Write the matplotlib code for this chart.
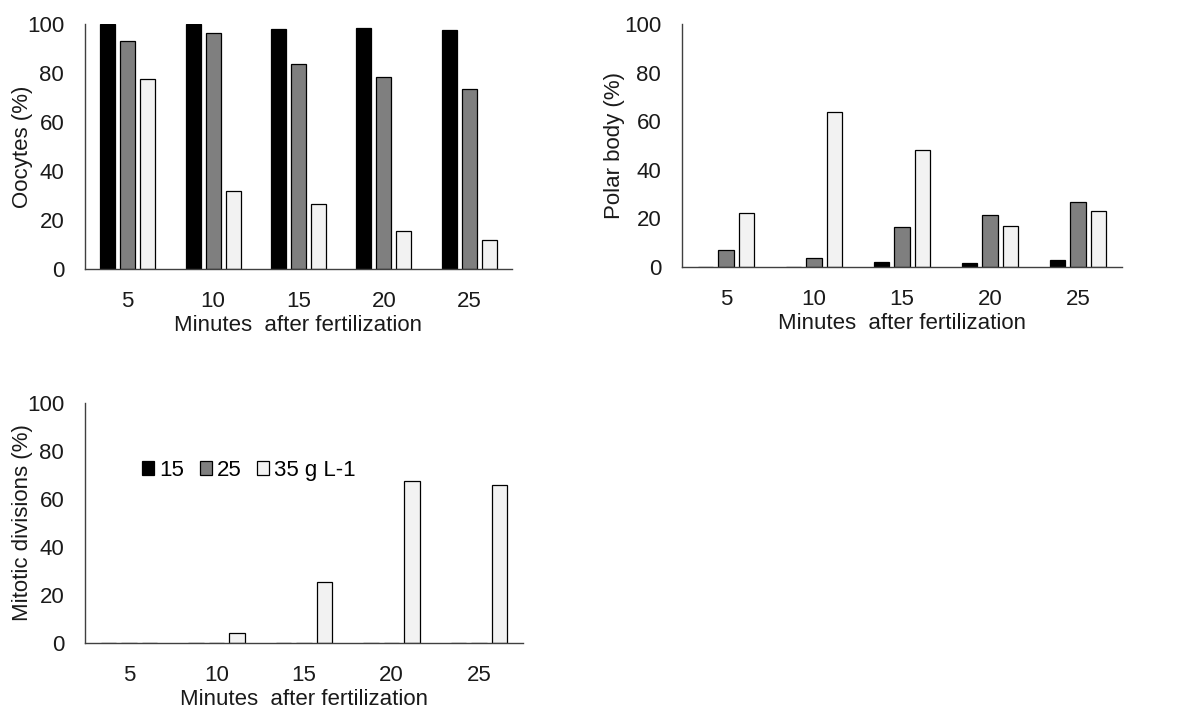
import numpy as np
import matplotlib.pyplot as plt

# data
minutes = ['5', '10', '15', '20', '25']
series_names = ['15', '25', '35 g L-1']

oocytes_15 = [100, 100, 97.8, 98.4, 97.6]
oocytes_25 = [93.1, 96.2, 83.5, 78.2, 73.3]
oocytes_35 = [77.7, 31.7, 26.5, 15.6, 11.7]

polar_15 = [0, 0, 2.2, 1.8, 2.7]
polar_25 = [7.0, 3.5, 16.3, 21.5, 26.9]
polar_35 = [22.1, 63.9, 48.0, 16.7, 23.0]

mitotic_15 = [0, 0, 0, 0, 0]
mitotic_25 = [0, 0, 0, 0, 0]
mitotic_35 = [0, 4.0, 25.6, 67.6, 65.8]

colors = ['#000000', '#7f7f7f', '#f2f2f2']
plt.rcParams['font.family'] = ['Liberation Sans', 'DejaVu Sans']
FS = 16

W, H = 1187, 711
fig = plt.figure(figsize=(W / 100, H / 100), dpi=100)


def px_axes(left, right, top, bottom):
    return fig.add_axes([left / W, 1 - bottom / H, (right - left) / W, (bottom - top) / H])


def draw_panel(ax, vals, ylabel, label_x):
    x = np.arange(len(minutes))
    width = 0.176
    offs = [-0.234, 0, 0.234]
    bars = []
    for v, c, o in zip(vals, colors, offs):
        b = ax.bar(x + o, v, width, color=c, edgecolor='black', linewidth=0.9)
        bars.append(b)
    ax.set_xlim(-0.5, len(minutes) - 0.5)
    ax.set_ylim(0, 100)
    ax.set_yticks([0, 20, 40, 60, 80, 100])
    ax.set_xticks(x)
    ax.set_xticklabels(minutes)
    ax.tick_params(length=0, labelsize=FS, colors='#1a1a1a')
    ax.tick_params(axis='y', pad=15)
    ax.tick_params(axis='x', pad=16)
    for s in ['top', 'right']:
        ax.spines[s].set_visible(False)
    for s in ['left', 'bottom']:
        ax.spines[s].set_color('#404040')
        ax.spines[s].set_linewidth(1.0)
    ax.set_ylabel(ylabel, fontsize=FS, color='#1a1a1a')
    ax.yaxis.set_label_coords(label_x, 0.5)
    ax.set_xlabel('Minutes  after fertilization', fontsize=FS, color='#1a1a1a', labelpad=2)
    return bars


ax1 = px_axes(85, 512, 24, 269)
draw_panel(ax1, [oocytes_15, oocytes_25, oocytes_35], 'Oocytes (%)', -0.122)

ax2 = px_axes(682, 1122, 24, 267)
draw_panel(ax2, [polar_15, polar_25, polar_35], 'Polar body (%)', -0.13)

ax3 = px_axes(85, 523, 403, 643)
bars = draw_panel(ax3, [mitotic_15, mitotic_25, mitotic_35], 'Mitotic divisions (%)', -0.119)
ax3.legend(bars, series_names, loc='center left', bbox_to_anchor=(0.085, 0.72),
           ncol=3, frameon=False, fontsize=FS, handlelength=0.55, handleheight=0.55,
           handletextpad=0.22, columnspacing=0.7)

plt.savefig('out.png', dpi=100)
